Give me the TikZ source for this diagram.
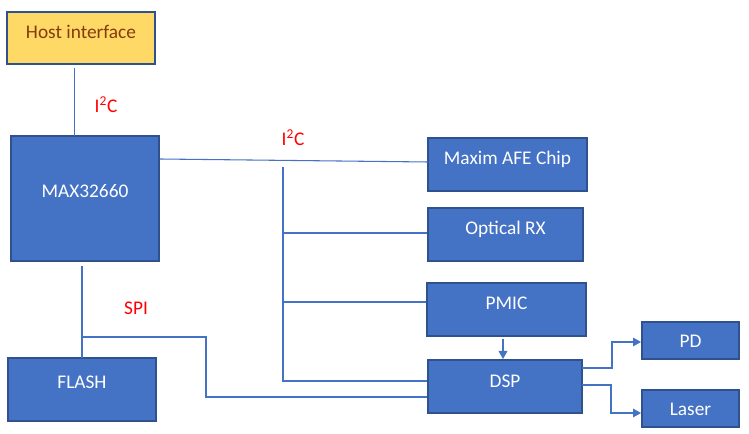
\documentclass[tikz,border=0pt]{standalone}
\usepackage{fontspec}
\setmainfont{Carlito}
\usetikzlibrary{arrows.meta,fit,calc}
\definecolor{boxfill}{HTML}{4472C4}
\definecolor{boxline}{HTML}{2F528F}
\definecolor{hostfill}{HTML}{FFD966}
\definecolor{hosttext}{HTML}{843C0C}
\definecolor{wire}{HTML}{4472C4}
\definecolor{lblred}{HTML}{FF0000}
\tikzset{
  blk/.style={draw=boxline, fill=boxfill, line width=1.5pt, inner sep=0pt},
  hostblk/.style={draw=boxline, fill=hostfill, line width=1.5pt, inner sep=0pt},
  blktext/.style={text=white, font=\fontsize{14.5}{16}\selectfont, inner sep=0pt},
  hosttxt/.style={text=hosttext, font=\fontsize{14.5}{16}\selectfont, inner sep=0pt},
  bus/.style={draw=wire, line width=0.8pt},
  arr/.style={bus, -{Triangle[length=6pt,width=6.5pt]}},
  redlbl/.style={text=lblred, font=\fontsize{14.5}{16}\selectfont, inner sep=0pt}
}
\begin{document}
\begin{tikzpicture}[x=0.75pt,y=-0.75pt]
\useasboundingbox (0,0) rectangle (749,434);
% boxes
\node[hostblk, fit={(7,12) (155,64)}] (host) {};
\node[blk, fit={(11,136) (159,261)}] (max) {};
\node[blk, fit={(8,358) (156,421)}] (flash) {};
\node[blk, fit={(428,138) (587,191)}] (afe) {};
\node[blk, fit={(428,208) (583,261)}] (orx) {};
\node[blk, fit={(427,283) (586,336)}] (pmic) {};
\node[blk, fit={(428,360) (582,413)}] (dsp) {};
\node[blk, fit={(642,322) (739,359)}] (pd) {};
\node[blk, fit={(642,390) (739,427)}] (laser) {};
% texts
\node[hosttxt] (hostt) at ($(host.center)+(0,-6)$) {Host interface};
\node[blktext] (maxt) at ($(max.center)+(0,-7)$) {MAX32660};
\node[blktext] (flasht) at ($(flash.center)+(0,-7)$) {FLASH};
\node[blktext] (afet) at ($(afe.center)+(0,-5)$) {Maxim AFE Chip};
\node[blktext] (orxt) at ($(orx.center)+(0,-5)$) {Optical RX};
\node[blktext] (pmict) at ($(pmic.center)+(0,-6)$) {PMIC};
\node[blktext] (dspt) at ($(dsp.center)+(0,-5)$) {DSP};
\node[blktext] (pdt) at ($(pd.center)+(0,1)$) {PD};
\node[blktext] (lasert) at ($(laser.center)+(0,1)$) {Laser};
% labels
\node[redlbl] (l1) at (106,105) {I\textsuperscript{2}C};
\node[redlbl] (l2) at (293,138) {I\textsuperscript{2}C};
\node[redlbl] (l3) at (136,308) {SPI};
% coordinates
\coordinate (hb) at (74.5,68);
\coordinate (mt) at (74.5,136);
\coordinate (me) at (160,159);
\coordinate (ae) at (428,162);
\coordinate (bt) at (283,167);
\coordinate (bb) at (283,381);
\coordinate (mb) at (82,266);
\coordinate (ft) at (82,358);
\coordinate (sj) at (82,337);
% connectors
\draw[bus] (hb) -- (mt);
\draw[bus] (me) -- (ae);
\draw[bus] (bt) -- (bb) -- (bb -| dsp.west);
\draw[bus] (283,233) -- (283,233 -| orx.west);
\draw[bus] (283,302) -- (283,302 -| pmic.west);
\draw[bus] (mb) -- (ft);
\draw[bus] (sj) -- (206,337) -- (206,397) -- (206,397 -| dsp.west);
\draw[arr] (503,339) -- (503,359 |- dsp.north);
\draw[arr] (582,368) -- (612,368) -- (612,342) -- (612,342 -| pd.west);
\draw[arr] (582,385) -- (611,385) -- (611,413) -- (611,413 -| laser.west);
\end{tikzpicture}
\end{document}
